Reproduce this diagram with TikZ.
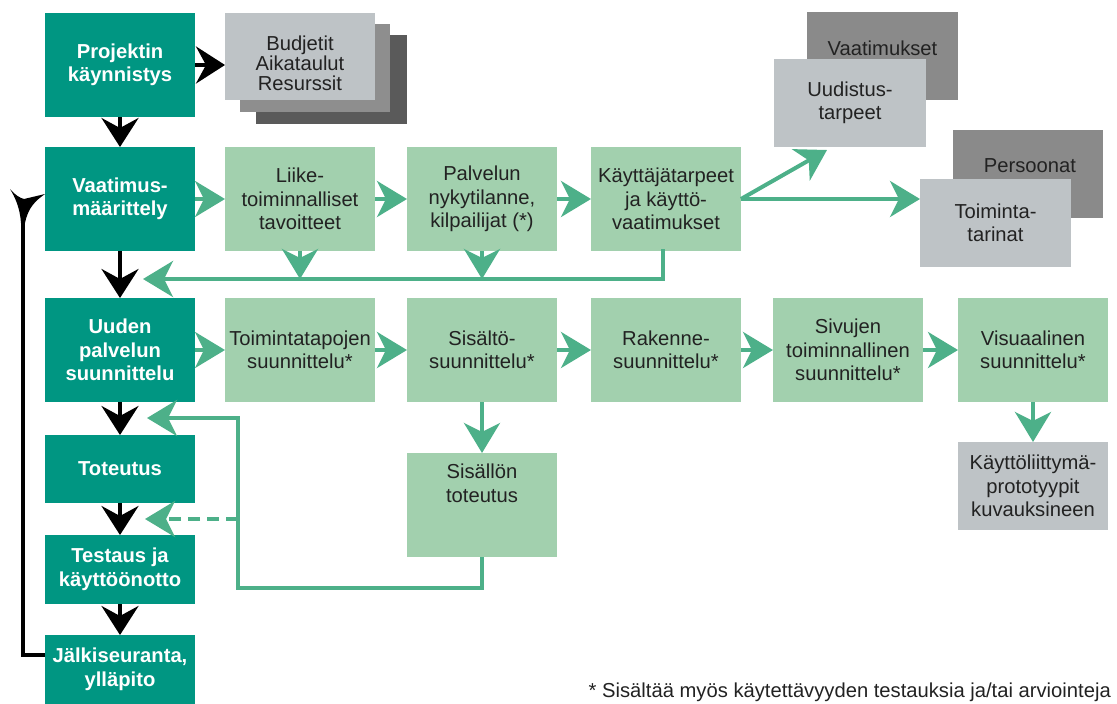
\documentclass[tikz,border=0pt]{standalone}
\usepackage{fontspec}
\setmainfont{Liberation Sans}
\usetikzlibrary{arrows.meta}
\definecolor{tealc}{HTML}{009682}
\definecolor{lgreen}{HTML}{A2D0AE}
\definecolor{garrow}{HTML}{4DB089}
\definecolor{lgrey}{HTML}{BEC3C6}
\definecolor{mgrey}{HTML}{8E8E8E}
\definecolor{dgrey}{HTML}{5A5A5A}
\definecolor{vgrey}{HTML}{8A8A8A}
\definecolor{txt}{HTML}{222222}
\tikzset{
  box/.style={rectangle, inner sep=0pt, outer sep=0pt, align=center, font=\fontsize{20.2}{23.5}\selectfont},
  tbox/.style={box, fill=tealc, text=white, font=\bfseries\fontsize{20.2}{23.5}\selectfont},
  gbox/.style={box, fill=lgreen, text=txt},
  grbox/.style={box, fill=lgrey, text=txt},
  blk/.style={line width=4pt, black, -{Stealth[length=29pt,width=37pt,inset=10pt]}},
  grn/.style={line width=4pt, garrow, -{Stealth[length=30pt,width=36pt,inset=9pt]}},
  lbl/.style={inner sep=0pt, align=center, text=txt, font=\fontsize{20.2}{23.5}\selectfont},
}
\begin{document}
\begin{tikzpicture}[x=1pt,y=-1pt]
\useasboundingbox (0,0) rectangle (1117,704);

% left column
\node[tbox, minimum width=150pt, minimum height=104pt] (proj) at (120,65) {Projektin\\käynnistys};
\node[tbox, minimum width=150pt, minimum height=104pt] (vaat) at (120,199) {Vaatimus-\\määrittely};
\node[tbox, minimum width=150pt, minimum height=104pt] (uud) at (120,350) {Uuden\\palvelun\\suunnittelu};
\node[tbox, minimum width=150pt, minimum height=68pt] (tot) at (120,469) {Toteutus};
\node[tbox, minimum width=150pt, minimum height=69pt] (test) at (120,569.5) {Testaus ja\\käyttöönotto};
\node[tbox, minimum width=150pt, minimum height=69pt] (jalk) at (120,669.5) {Jälkiseuranta,\\ylläpito};

% budget stack
\node[box, fill=dgrey, minimum width=151pt, minimum height=89pt] (b3) at (331.5,79.5) {};
\node[box, fill=mgrey, minimum width=150pt, minimum height=88pt] (b2) at (315,68) {};
\node[box, fill=lgrey, minimum width=150pt, minimum height=87pt] (b1) at (300,56.5) {};
\node[lbl, font=\fontsize{20.2}{20}\selectfont] (b1t) at (300,63) {Budjetit\\Aikataulut\\Resurssit};

% row 2
\node[gbox, minimum width=150pt, minimum height=104pt] (liike) at (300,199) {Liike-\\toiminnalliset\\tavoitteet};
\node[gbox, minimum width=150pt, minimum height=104pt] (palv) at (482,199) {Palvelun\\nykytilanne,\\kilpailijat (*)};
\node[gbox, minimum width=150pt, minimum height=104pt] (kayt) at (666,199) {Käyttäjätarpeet\\ja käyttö-\\vaatimukset};

% top right stacks
\node[box, fill=vgrey, minimum width=151pt, minimum height=88pt] (vaatd) at (882.5,56) {};
\node[lbl] (vaatt) at (882.5,48) {Vaatimukset};
\node[grbox, minimum width=152pt, minimum height=88pt] (uudis) at (850,103) {Uudistus-\\tarpeet};
\node[box, fill=vgrey, minimum width=150pt, minimum height=88pt] (persd) at (1028,174) {};
\node[lbl] (perst) at (1030,166) {Persoonat};
\node[grbox, minimum width=151pt, minimum height=88pt] (toimt) at (995.5,223) {Toiminta-\\tarinat};

% row 3
\node[gbox, minimum width=150pt, minimum height=104pt] (toim) at (300,350) {Toimintatapojen\\suunnittelu*};
\node[gbox, minimum width=150pt, minimum height=104pt] (sis) at (482,350) {Sisältö-\\suunnittelu*};
\node[gbox, minimum width=150pt, minimum height=104pt] (rak) at (666,350) {Rakenne-\\suunnittelu*};
\node[gbox, minimum width=150pt, minimum height=104pt] (sivu) at (848,350) {Sivujen\\toiminnallinen\\suunnittelu*};
\node[gbox, minimum width=150pt, minimum height=104pt] (vis) at (1033,350) {Visuaalinen\\suunnittelu*};
\node[gbox, minimum width=150pt, minimum height=104pt] (sist) at (482,505) {Sisällön\\toteutus\\[20pt]};
\node[grbox, minimum width=150pt, minimum height=88pt] (kli) at (1033,486) {Käyttöliittymä-\\prototyypit\\kuvauksineen};

% footnote
\node[lbl, anchor=east] (note) at (1111,692) {* Sisältää myös käytettävyyden testauksia ja/tai arviointeja};

% coordinates
\coordinate (r2) at (143,279);
\coordinate (r3) at (147,418);
\coordinate (r4) at (145,519);
\coordinate (fb) at (23,214);

% black arrows
\draw[blk] (proj.east) -- (proj.east -| b1.west);
\draw[blk] (proj) -- (vaat);
\draw[blk] (vaat) -- (uud);
\draw[blk] (uud) -- (tot);
\draw[blk] (tot) -- (test);
\draw[blk] (test) -- (jalk);
\draw[line width=4pt] (jalk.west |- 0,655) -| (fb);
\fill (10,189) .. controls (15,195) and (20,198) .. (24,199) -- (45,194)
  .. controls (35,201) and (28,208) .. (25,223) -- (21,223)
  .. controls (20,208) and (15,197) .. cycle;

% green arrows row 2
\draw[grn] (vaat) -- (liike);
\draw[grn] (liike) -- (palv);
\draw[grn] (palv) -- (kayt);
\draw[grn] (liike.south) -- (liike.south |- r2);
\draw[grn] (palv.south) -- (palv.south |- r2);
\draw[grn, line cap=rect] (kayt.south -| 663,0) |- (r2);
\draw[grn] (kayt.east) -- (827,150);
\draw[grn] (kayt.east) -- (kayt.east -| toimt.west);

% green arrows row 3
\draw[grn] (uud) -- (toim);
\draw[grn] (toim) -- (sis);
\draw[grn] (sis) -- (rak);
\draw[grn] (rak) -- (sivu);
\draw[grn] (sivu) -- (vis);
\draw[grn] (vis) -- (kli);
\draw[grn] (sis) -- (sist);
\draw[grn] (sist.south) -- ++(0,31) -| (238,418) -- (r3);
\draw[grn, dash pattern=on 12pt off 7pt] (238,519) -- (r4);
\end{tikzpicture}
\end{document}
